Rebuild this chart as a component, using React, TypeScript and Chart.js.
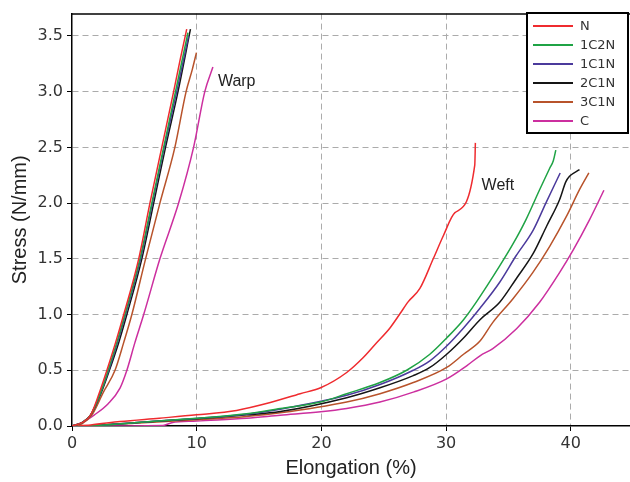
import React, { useEffect, useRef } from "react";
import { Chart, registerables } from "chart.js";

Chart.register(...registerables);

type P = { x: number; y: number };

const seriesNames = ["N", "1C2N", "1C1N", "2C1N", "3C1N", "C"];
const seriesColors = ["#ef2b2f", "#1fa345", "#4b3a9c", "#151515", "#b8532b", "#cc2f9f"];

// Warp curves: [elongation %, stress N/mm]
const warpN: P[] = [
  { x: 0, y: 0 }, { x: 0.8, y: 0.03 }, { x: 1.5, y: 0.1 }, { x: 2.2, y: 0.3 }, { x: 2.8, y: 0.5 },
  { x: 3.5, y: 0.75 }, { x: 4.15, y: 1.0 }, { x: 5.35, y: 1.5 }, { x: 6.25, y: 2.0 }, { x: 7.2, y: 2.5 },
  { x: 8.15, y: 3.0 }, { x: 8.7, y: 3.3 }, { x: 9.2, y: 3.56 },
];
const warp1C2N: P[] = [
  { x: 0, y: 0 }, { x: 0.8, y: 0.03 }, { x: 1.5, y: 0.1 }, { x: 2.3, y: 0.3 }, { x: 2.9, y: 0.5 },
  { x: 3.6, y: 0.75 }, { x: 4.25, y: 1.0 }, { x: 5.45, y: 1.5 }, { x: 6.4, y: 2.0 }, { x: 7.35, y: 2.5 },
  { x: 8.3, y: 3.0 }, { x: 9.3, y: 3.53 },
];
const warp1C1N: P[] = [
  { x: 0, y: 0 }, { x: 0.8, y: 0.03 }, { x: 1.5, y: 0.1 }, { x: 2.3, y: 0.3 }, { x: 2.95, y: 0.5 },
  { x: 3.65, y: 0.75 }, { x: 4.3, y: 1.0 }, { x: 5.5, y: 1.5 }, { x: 6.45, y: 2.0 }, { x: 7.4, y: 2.5 },
  { x: 8.4, y: 3.0 }, { x: 9.35, y: 3.5 },
];
const warp2C1N: P[] = [
  { x: 0, y: 0 }, { x: 0.8, y: 0.03 }, { x: 1.5, y: 0.1 }, { x: 2.35, y: 0.3 }, { x: 3.0, y: 0.5 },
  { x: 3.75, y: 0.75 }, { x: 4.4, y: 1.0 }, { x: 5.6, y: 1.5 }, { x: 6.55, y: 2.0 }, { x: 7.5, y: 2.5 },
  { x: 8.5, y: 3.0 }, { x: 9.5, y: 3.56 },
];
const warp3C1N: P[] = [
  { x: 0, y: 0 }, { x: 0.8, y: 0.02 }, { x: 1.6, y: 0.1 }, { x: 2.5, y: 0.3 }, { x: 3.45, y: 0.5 },
  { x: 4.15, y: 0.75 }, { x: 4.8, y: 1.0 }, { x: 5.9, y: 1.5 }, { x: 7.05, y: 2.0 }, { x: 8.25, y: 2.5 },
  { x: 9.15, y: 3.0 }, { x: 9.65, y: 3.2 }, { x: 9.98, y: 3.35 },
];
const warpC: P[] = [
  { x: 0, y: 0 }, { x: 0.8, y: 0.03 }, { x: 1.8, y: 0.1 }, { x: 2.9, y: 0.2 }, { x: 3.85, y: 0.34 },
  { x: 4.4, y: 0.5 }, { x: 5.05, y: 0.75 }, { x: 5.75, y: 1.0 }, { x: 7.05, y: 1.5 }, { x: 8.55, y: 2.0 },
  { x: 9.75, y: 2.5 }, { x: 10.65, y: 3.0 }, { x: 11.3, y: 3.22 },
];

// Weft curves
const weftN: P[] = [
  { x: 0, y: 0 }, { x: 1.5, y: 0.01 }, { x: 3.85, y: 0.04 }, { x: 7, y: 0.07 }, { x: 10, y: 0.1 },
  { x: 13.2, y: 0.14 }, { x: 15.9, y: 0.21 }, { x: 18.3, y: 0.29 }, { x: 19.94, y: 0.343 },
  { x: 22.03, y: 0.48 }, { x: 23.36, y: 0.614 }, { x: 24.43, y: 0.747 }, { x: 25.5, y: 0.88 },
  { x: 26.3, y: 1.007 }, { x: 26.97, y: 1.116 }, { x: 27.9, y: 1.234 }, { x: 28.97, y: 1.5 },
  { x: 29.78, y: 1.707 }, { x: 30.71, y: 1.914 }, { x: 32.3, y: 2.34 }, { x: 32.35, y: 2.54 },
];
const weft1C2N: P[] = [
  { x: 0, y: 0 }, { x: 2, y: 0.005 }, { x: 5, y: 0.03 }, { x: 10, y: 0.07 }, { x: 14, y: 0.11 },
  { x: 16.7, y: 0.157 }, { x: 19.94, y: 0.215 }, { x: 22.03, y: 0.29 }, { x: 24.7, y: 0.39 },
  { x: 26.84, y: 0.5 }, { x: 28.7, y: 0.644 }, { x: 30.05, y: 0.79 }, { x: 31.4, y: 0.954 },
  { x: 32.45, y: 1.116 }, { x: 34.3, y: 1.436 }, { x: 35.4, y: 1.64 }, { x: 36.4, y: 1.85 },
  { x: 37.5, y: 2.12 }, { x: 38.3, y: 2.31 }, { x: 38.6, y: 2.38 }, { x: 38.8, y: 2.475 },
];
const weft1C1N: P[] = [
  { x: 0, y: 0 }, { x: 2, y: 0.005 }, { x: 5, y: 0.03 }, { x: 10, y: 0.068 }, { x: 14, y: 0.105 },
  { x: 16.7, y: 0.15 }, { x: 22.03, y: 0.275 }, { x: 24.7, y: 0.372 }, { x: 27.37, y: 0.5 },
  { x: 28.7, y: 0.585 }, { x: 30.05, y: 0.718 }, { x: 31.4, y: 0.88 }, { x: 32.72, y: 1.057 },
  { x: 34.3, y: 1.29 }, { x: 35.6, y: 1.525 }, { x: 37.0, y: 1.76 }, { x: 38.0, y: 2.0 },
  { x: 39.15, y: 2.27 },
];
const weft2C1N: P[] = [
  { x: 0, y: 0 }, { x: 2, y: 0.005 }, { x: 5, y: 0.03 }, { x: 10, y: 0.065 }, { x: 14, y: 0.1 },
  { x: 16.7, y: 0.13 }, { x: 22.03, y: 0.254 }, { x: 24.7, y: 0.343 }, { x: 27.37, y: 0.452 },
  { x: 28.7, y: 0.525 }, { x: 30.05, y: 0.644 }, { x: 31.4, y: 0.79 }, { x: 32.72, y: 0.954 },
  { x: 34.3, y: 1.11 }, { x: 35.6, y: 1.317 }, { x: 37.0, y: 1.55 }, { x: 38.05, y: 1.79 },
  { x: 39.1, y: 2.03 }, { x: 39.6, y: 2.19 }, { x: 39.9, y: 2.24 }, { x: 40.7, y: 2.3 },
];
const weft3C1N: P[] = [
  { x: 0, y: 0 }, { x: 2, y: 0.005 }, { x: 5, y: 0.025 }, { x: 10, y: 0.055 }, { x: 14, y: 0.085 },
  { x: 16.7, y: 0.118 }, { x: 22.03, y: 0.215 }, { x: 24.7, y: 0.29 }, { x: 27.37, y: 0.39 },
  { x: 30.05, y: 0.525 }, { x: 31.4, y: 0.644 }, { x: 32.72, y: 0.762 }, { x: 33.75, y: 0.93 },
  { x: 35.35, y: 1.14 }, { x: 36.95, y: 1.376 }, { x: 38.3, y: 1.61 }, { x: 39.65, y: 1.88 },
  { x: 40.7, y: 2.12 }, { x: 41.45, y: 2.27 },
];
const weftC: P[] = [
  { x: 0, y: 0 }, { x: 7.3, y: 0.005 }, { x: 8, y: 0.03 }, { x: 10, y: 0.045 }, { x: 14, y: 0.07 },
  { x: 16.7, y: 0.097 }, { x: 19.94, y: 0.127 }, { x: 22.03, y: 0.157 }, { x: 24.7, y: 0.215 },
  { x: 27.37, y: 0.304 }, { x: 30.05, y: 0.423 }, { x: 31.65, y: 0.54 }, { x: 32.72, y: 0.63 },
  { x: 33.75, y: 0.695 }, { x: 35.65, y: 0.873 }, { x: 37.5, y: 1.11 }, { x: 39.1, y: 1.376 },
  { x: 40.2, y: 1.58 }, { x: 41.5, y: 1.85 }, { x: 42.66, y: 2.115 },
];

const warpSeries = [warpN, warp1C2N, warp1C1N, warp2C1N, warp3C1N, warpC];
const weftSeries = [weftN, weft1C2N, weft1C1N, weft2C1N, weft3C1N, weftC];

const xTicks = [0, 10, 20, 30, 40];
const yTicks = [0, 0.5, 1.0, 1.5, 2.0, 2.5, 3.0, 3.5];
const xMax = 44.75;
const yMax = 3.7;

const annotations = [
  { text: "Warp", x: 11.7, y: 3.05 },
  { text: "Weft", x: 32.85, y: 2.12 },
];

const overlayPlugin = {
  id: "overlay",
  afterDraw(chart: any) {
    const { ctx, chartArea, scales } = chart;
    ctx.save();
    ctx.setLineDash([]);
    // top frame line
    ctx.strokeStyle = "#000";
    ctx.lineWidth = 1.5;
    ctx.beginPath();
    ctx.moveTo(chartArea.left, chartArea.top + 0.5);
    ctx.lineTo(chartArea.right, chartArea.top + 0.5);
    ctx.stroke();

    // annotations
    ctx.fillStyle = "#222";
    ctx.font = "16px 'Liberation Sans', Arial, sans-serif";
    ctx.textBaseline = "alphabetic";
    ctx.textAlign = "left";
    for (const a of annotations) {
      ctx.fillText(a.text, scales.x.getPixelForValue(a.x), scales.y.getPixelForValue(a.y));
    }

    // legend box
    const bx = 527, by = 13, bw = 101, bh = 120;
    ctx.fillStyle = "#fff";
    ctx.fillRect(bx, by, bw, bh);
    ctx.strokeStyle = "#000";
    ctx.lineWidth = 2;
    ctx.strokeRect(bx, by, bw, bh);
    ctx.font = "13px 'DejaVu Sans', Verdana, sans-serif";
    ctx.textBaseline = "middle";
    seriesNames.forEach((name, i) => {
      const yy = by + 13 + i * 19;
      ctx.strokeStyle = seriesColors[i];
      ctx.lineWidth = 2;
      ctx.beginPath();
      ctx.moveTo(bx + 6, yy);
      ctx.lineTo(bx + 46, yy);
      ctx.stroke();
      ctx.fillStyle = "#333";
      ctx.fillText(name, bx + 53, yy + 1);
    });
    ctx.restore();
  },
};

export default function App() {
  const ref = useRef<HTMLCanvasElement | null>(null);
  useEffect(() => {
    if (!ref.current) return;
    const datasets: any[] = [];
    warpSeries.forEach((d, i) =>
      datasets.push({
        label: seriesNames[i] + " warp",
        data: d,
        borderColor: seriesColors[i],
        borderWidth: 1.5,
        pointRadius: 0,
        fill: false,
        cubicInterpolationMode: "monotone",
      })
    );
    weftSeries.forEach((d, i) =>
      datasets.push({
        label: seriesNames[i] + " weft",
        data: d,
        borderColor: seriesColors[i],
        borderWidth: 1.5,
        pointRadius: 0,
        fill: false,
        cubicInterpolationMode: "monotone",
      })
    );
    const tickFont = { family: "'DejaVu Sans', Verdana, sans-serif", size: 16 };
    const titleFont = { family: "'Liberation Sans', Arial, sans-serif", size: 20 };
    const gridOpts = {
      color: (c: any) => (c.tick && c.tick.value === 0 ? "rgba(0,0,0,0)" : "#ababab"),
      lineWidth: 1,
      tickColor: "#000",
      tickLength: 5,
      tickBorderDash: [],
      tickWidth: 1,
    };
    const chart = new Chart(ref.current, {
      type: "line",
      data: { datasets },
      plugins: [overlayPlugin],
      options: {
        animation: false,
        responsive: false,
        devicePixelRatio: 1,
        layout: { padding: { top: 9, right: 0, left: 0, bottom: 0 } },
        plugins: { legend: { display: false }, tooltip: { enabled: false } },
        scales: {
          x: {
            type: "linear",
            min: 0,
            max: xMax,
            afterFit: (s: any) => { s.height = 56; },
            afterBuildTicks: (s: any) => { s.ticks = xTicks.map((v) => ({ value: v })); },
            ticks: { font: tickFont, color: "#333", padding: 3, maxRotation: 0, includeBounds: false },
            grid: gridOpts,
            border: { display: true, color: "#000", width: 1.5, dash: [6, 4] },
            title: { display: true, text: "Elongation (%)", font: titleFont, color: "#222", padding: { top: 0, bottom: 2 } },
          },
          y: {
            type: "linear",
            min: 0,
            max: yMax,
            afterFit: (s: any) => { s.width = 72; },
            afterBuildTicks: (s: any) => { s.ticks = yTicks.map((v) => ({ value: v })); },
            ticks: {
              font: tickFont,
              color: "#333",
              padding: 4,
              includeBounds: false,
              callback: (v: any) => Number(v).toFixed(1),
            },
            grid: gridOpts,
            border: { display: true, color: "#000", width: 1.5, dash: [6, 4] },
            title: { display: true, text: "Stress (N/mm)", font: titleFont, color: "#222", padding: { top: 8, bottom: 0 } },
          },
        },
      } as any,
    });
    return () => chart.destroy();
  }, []);
  return (
    <div style={{ position: "fixed", left: 0, top: 0, width: 630, height: 482, background: "#fff" }}>
      <canvas ref={ref} width={630} height={482} style={{ display: "block", width: 630, height: 482 }} />
    </div>
  );
}
